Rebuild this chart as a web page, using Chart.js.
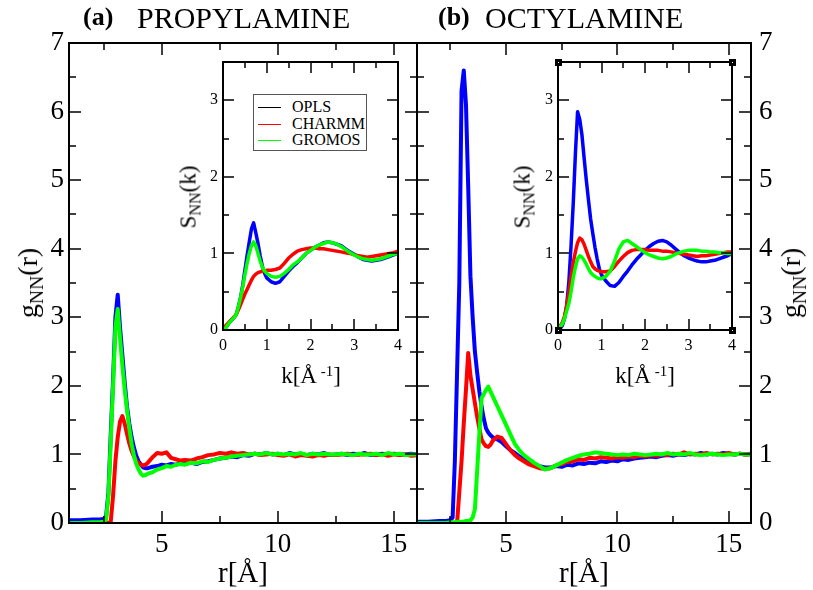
<!DOCTYPE html>
<html>
<head>
<meta charset="utf-8">
<script src="https://cdn.jsdelivr.net/npm/chart.js@4.4.1/dist/chart.umd.min.js"></script>
<style>
  body { margin: 0; background: #fff; }
  #page { position: relative; width: 813px; height: 590px; overflow: hidden; font-family: "Liberation Serif", "DejaVu Serif", serif; color: #000; }
  canvas { position: absolute; }
  .txt { position: absolute; white-space: nowrap; line-height: 1; }
  .rot { transform: translate(-50%, -50%) rotate(-90deg); }
  .ctr { transform: translate(-50%, -50%); }
  .sub { font-size: 0.7em; position: relative; top: 0.3em; }
  .sup { font-size: 0.65em; position: relative; top: -0.45em; }
  #legend { position: absolute; left: 253px; top: 94px; width: 114px; height: 57px; box-sizing: border-box; border: 1px solid #555; background: #fff; }
  .row { position: absolute; left: 4px; height: 16px; display: flex; align-items: center; font-size: 16px; }
  .row b { display: inline-block; width: 23px; height: 0; border-top: 1px solid; margin-right: 11px; }
</style>
</head>
<body>
<div id="page">
  <canvas id="mainA" width="425" height="590" style="left:0;top:0"></canvas>
  <canvas id="mainB" width="404" height="590" style="left:409px;top:0"></canvas>
  <canvas id="insetA" width="260" height="360" style="left:150px;top:40px"></canvas>
  <canvas id="insetB" width="260" height="360" style="left:485px;top:40px"></canvas>

  <div class="txt" style="left:83px;top:4px;font-size:26px;font-weight:bold">(a)</div>
  <div class="txt" style="left:137px;top:3px;font-size:30px">PROPYLAMINE</div>
  <div class="txt" style="left:438px;top:4px;font-size:26px;font-weight:bold">(b)</div>
  <div class="txt" style="left:485px;top:3px;font-size:30px">OCTYLAMINE</div>

  <div class="txt rot" style="left:28px;top:283px;font-size:28px">g<span class="sub">NN</span>(r)</div>
  <div class="txt rot" style="left:791px;top:283px;font-size:28px">g<span class="sub">NN</span>(r)</div>
  <div class="txt ctr" style="left:243px;top:572px;font-size:29px">r[Å]</div>
  <div class="txt ctr" style="left:584px;top:572px;font-size:29px">r[Å]</div>

  <div class="txt rot" style="left:188px;top:197px;font-size:23px">S<span class="sub">NN</span>(k)</div>
  <div class="txt rot" style="left:522px;top:197px;font-size:23px">S<span class="sub">NN</span>(k)</div>
  <div class="txt ctr" style="left:311px;top:375px;font-size:23px">k[Å<span class="sup">&nbsp;-1</span>]</div>
  <div class="txt ctr" style="left:645px;top:375px;font-size:23px">k[Å<span class="sup">&nbsp;-1</span>]</div>

  <div id="legend">
    <div class="row" style="top:4px"><b style="color:#000"></b>OPLS</div>
    <div class="row" style="top:21px"><b style="color:#f00"></b>CHARMM</div>
    <div class="row" style="top:37px"><b style="color:#0f0"></b>GROMOS</div>
  </div>
</div>

<script>
// g_NN(r) data: r grid (Angstrom) shared by both main panels
const R_GRID = [1, 1.5, 2, 2.3, 2.5,
  2.6, 2.7, 2.8, 2.9, 3.0, 3.1, 3.2, 3.3, 3.4, 3.5, 3.6, 3.7, 3.8, 3.9, 4.0, 4.1, 4.2, 4.3, 4.4,
  4.6, 4.8, 5.0, 5.2, 5.4, 5.6, 5.8, 6.0,
  6.25, 6.5, 6.75, 7.0, 7.25, 7.5, 7.75, 8.0, 8.25, 8.5, 8.75, 9.0, 9.25, 9.5, 9.75, 10.0,
  10.25, 10.5, 10.75, 11.0, 11.25, 11.5, 11.75, 12.0, 12.25, 12.5, 12.75, 13.0, 13.25, 13.5, 13.75, 14.0,
  14.25, 14.5, 14.75, 15.0, 15.25, 15.5, 15.75, 16.0];

const PROP_G_OPLS = [0.04, 0.04, 0.05, 0.05, 0.06,
  0.1, 0.45, 1.3, 2.1, 3.0, 3.33, 2.85, 2.45, 2.05, 1.7, 1.45, 1.25, 1.1, 0.98, 0.9, 0.85, 0.81, 0.8, 0.8,
  0.82, 0.83, 0.85, 0.84, 0.86, 0.85, 0.87, 0.86,
  0.88, 0.86, 0.89, 0.9, 0.92, 0.94, 0.95, 0.97, 0.96, 0.99, 0.98, 1.01, 1.0, 1.02, 1.0, 1.01,
  0.99, 1.02, 1.0, 1.01, 0.99, 1.01, 1.0, 1.02, 0.99, 1.0, 1.01, 0.99, 1.01, 1.0, 1.02, 0.99,
  1.0, 1.01, 0.99, 1.01, 1.0, 1.0, 1.01, 1.0];
const PROP_G_CHARMM = [0, 0, 0, 0, 0,
  0, 0, 0.02, 0.4, 0.9, 1.25, 1.48, 1.56, 1.45, 1.3, 1.16, 1.05, 0.97, 0.91, 0.87, 0.85, 0.84, 0.85, 0.88,
  0.96, 1.02, 1.01, 1.03, 0.95, 0.93, 0.91, 0.92,
  0.91, 0.94, 0.96, 0.99, 1.0, 1.02, 1.01, 1.03, 1.01, 1.02, 1.0, 1.01, 0.99, 1.0, 1.01, 0.99,
  0.98, 1.0, 0.97, 0.99, 0.98, 0.97, 0.99, 0.98, 1.0, 0.99, 1.0, 1.01, 0.99, 1.0, 1.0, 1.01,
  0.99, 1.0, 0.98, 1.0, 0.99, 1.0, 0.98, 0.99];
const PROP_G_GROMOS = [0, 0, 0.01, 0.01, 0.02,
  0.05, 0.4, 1.2, 2.0, 2.85, 3.12, 2.7, 2.3, 1.95, 1.65, 1.38, 1.15, 0.98, 0.86, 0.78, 0.72, 0.69, 0.7, 0.72,
  0.74, 0.78, 0.8, 0.83, 0.82, 0.85, 0.86, 0.85,
  0.88, 0.87, 0.9, 0.89, 0.92, 0.94, 0.95, 0.97, 0.98, 0.99, 1.0, 1.01, 1.0, 1.02, 1.0, 1.01,
  1.0, 1.01, 1.0, 1.02, 0.99, 1.01, 1.0, 1.01, 1.0, 1.0, 1.01, 1.0, 0.99, 1.01, 1.0, 1.0,
  1.01, 0.99, 1.02, 1.0, 1.01, 0.99, 1.0, 1.0];

const OCT_G_OPLS = [0.02, 0.02, 0.03, 0.03, 0.04,
  0.08, 0.9, 2.2, 3.5, 6.3, 6.6, 6.1, 4.9, 3.6, 3.0, 2.5, 2.2, 1.92, 1.7, 1.52, 1.38, 1.32, 1.28, 1.25,
  1.22, 1.18, 1.12, 1.06, 1.02, 0.97, 0.93, 0.9,
  0.86, 0.83, 0.81, 0.81, 0.83, 0.82, 0.85, 0.84, 0.87, 0.86, 0.88, 0.87, 0.9, 0.89, 0.91, 0.9,
  0.93, 0.92, 0.94, 0.95, 0.96, 0.97, 0.96, 0.98, 0.99, 0.98, 1.0, 0.99, 1.01, 1.0, 1.02, 1.0,
  1.01, 1.0, 1.02, 1.01, 1.0, 1.01, 1.0, 1.01];
const OCT_G_CHARMM = [-0.02, -0.02, -0.02, -0.02, -0.02,
  -0.02, -0.02, 0.0, 0.45, 0.9, 1.45, 1.95, 2.48, 2.15, 1.95, 1.75, 1.55, 1.38, 1.22, 1.16, 1.12, 1.11, 1.14, 1.2,
  1.26, 1.24, 1.15, 1.06, 0.99, 0.94, 0.9, 0.86,
  0.83, 0.8, 0.79, 0.8, 0.84, 0.86, 0.89, 0.9, 0.93, 0.92, 0.95, 0.94, 0.96, 0.95, 0.94, 0.96,
  0.95, 0.97, 0.96, 0.98, 0.97, 0.99, 0.98, 1.0, 0.99, 1.01, 1.0, 1.03, 1.0, 1.01, 1.0, 1.02,
  1.0, 1.01, 1.0, 1.02, 1.0, 1.01, 1.0, 1.0];
const OCT_G_GROMOS = [0, 0, 0, 0, 0.01,
  0.01, 0.01, 0.02, 0.02, 0.02, 0.02, 0.03, 0.03, 0.04, 0.08, 0.2, 0.75, 1.3, 1.82, 1.88, 1.94, 1.99, 1.92, 1.85,
  1.71, 1.57, 1.43, 1.29, 1.15, 1.06, 0.99, 0.94,
  0.88, 0.83, 0.78, 0.8, 0.84, 0.88, 0.92, 0.95, 0.98, 1.0, 1.01, 1.03, 1.02, 1.01, 1.0, 0.99,
  1.0, 0.99, 1.01, 1.0, 0.99, 1.0, 1.01, 1.0, 1.02, 1.0, 1.01, 1.0, 1.02, 1.0, 0.99, 1.0,
  1.01, 1.0, 0.99, 1.0, 1.0, 1.01, 1.0, 1.0];

// S_NN(k) data: k grid (1/Angstrom) shared by both insets
const K_GRID = [0, 0.05, 0.1, 0.15, 0.2, 0.25, 0.3, 0.35, 0.4, 0.45, 0.5, 0.55, 0.6, 0.65, 0.7, 0.75, 0.8, 0.85, 0.9, 0.95, 1.0,
  1.1, 1.2, 1.3, 1.4, 1.5, 1.6, 1.7, 1.8, 1.9, 2.0, 2.1, 2.2, 2.3, 2.4, 2.5, 2.6, 2.7, 2.8, 2.9, 3.0,
  3.1, 3.2, 3.3, 3.4, 3.5, 3.6, 3.7, 3.8, 3.9, 4.0];

const PROP_S_OPLS = [0, 0.02, 0.06, 0.1, 0.13, 0.16, 0.2, 0.3, 0.42, 0.58, 0.78, 0.97, 1.15, 1.32, 1.4, 1.27, 1.13, 0.97, 0.83, 0.74, 0.68,
  0.63, 0.61, 0.63, 0.7, 0.77, 0.83, 0.88, 0.94, 1.0, 1.04, 1.08, 1.11, 1.14, 1.15, 1.14, 1.12, 1.1, 1.06, 1.02, 0.99,
  0.95, 0.92, 0.91, 0.9, 0.91, 0.92, 0.94, 0.96, 0.98, 1.0];
const PROP_S_CHARMM = [0.03, 0.05, 0.08, 0.11, 0.14, 0.17, 0.2, 0.26, 0.33, 0.4, 0.47, 0.53, 0.59, 0.65, 0.7, 0.73, 0.75, 0.76, 0.77, 0.77, 0.78,
  0.78, 0.79, 0.81, 0.87, 0.94, 0.99, 1.03, 1.05, 1.06, 1.07, 1.07, 1.06, 1.06, 1.05, 1.04, 1.03, 1.02, 1.01, 1.0, 0.98,
  0.97, 0.96, 0.95, 0.96, 0.97, 0.98, 0.99, 1.0, 1.01, 1.03];
const PROP_S_GROMOS = [0, 0.02, 0.06, 0.1, 0.13, 0.16, 0.2, 0.3, 0.42, 0.56, 0.72, 0.87, 1.0, 1.1, 1.15, 1.1, 1.0, 0.9, 0.82, 0.77, 0.74,
  0.7, 0.69, 0.7, 0.74, 0.79, 0.85, 0.89, 0.94, 1.0, 1.04, 1.08, 1.11, 1.13, 1.15, 1.14, 1.12, 1.09, 1.05, 1.01, 0.98,
  0.95, 0.93, 0.92, 0.91, 0.92, 0.93, 0.95, 0.97, 0.99, 1.0];

const OCT_S_OPLS = [0, 0.02, 0.06, 0.15, 0.32, 0.63, 1.1, 1.65, 2.3, 2.85, 2.75, 2.55, 2.25, 1.96, 1.7, 1.45, 1.26, 1.08, 0.93, 0.8, 0.72,
  0.64, 0.58, 0.57, 0.62, 0.7, 0.77, 0.85, 0.92, 0.98, 1.04, 1.09, 1.13, 1.16, 1.17, 1.15, 1.11, 1.06, 1.01, 0.97, 0.94,
  0.92, 0.9, 0.89, 0.89, 0.9, 0.91, 0.93, 0.95, 0.97, 1.0];
const OCT_S_CHARMM = [0.03, 0.05, 0.1, 0.18, 0.32, 0.5, 0.7, 0.88, 1.02, 1.14, 1.2, 1.18, 1.12, 1.04, 0.96, 0.89, 0.83, 0.8, 0.78, 0.77, 0.76,
  0.76, 0.77, 0.83, 0.9, 0.96, 1.01, 1.04, 1.05, 1.05, 1.05, 1.04, 1.04, 1.04, 1.03, 1.03, 1.02, 1.01, 1.0, 0.99, 0.98,
  0.97, 0.96, 0.97, 0.97, 0.98, 0.99, 1.0, 1.01, 1.02, 1.02];
const OCT_S_GROMOS = [0.02, 0.04, 0.08, 0.15, 0.25, 0.35, 0.5, 0.68, 0.82, 0.93, 0.97, 0.95, 0.91, 0.86, 0.8, 0.75, 0.72, 0.7, 0.68, 0.67, 0.67,
  0.7, 0.77, 0.9, 1.06, 1.15, 1.17, 1.13, 1.09, 1.05, 1.01, 0.98, 0.96, 0.94, 0.93, 0.94, 0.96, 0.99, 1.01, 1.03, 1.04,
  1.04, 1.04, 1.03, 1.03, 1.02, 1.02, 1.01, 1.01, 1.0, 1.0];

// tick values
const R_TICKS = [5, 10, 15];
const R_MINOR = [2.5, 7.5, 12.5];
const G_TICKS = [0, 1, 2, 3, 4, 5, 6, 7];
const G_MINOR = [0.5, 1.5, 2.5, 3.5, 4.5, 5.5, 6.5];
const K_TICKS = [0, 1, 2, 3, 4];
const K_MINOR = [0.5, 1.5, 2.5, 3.5];
const S_TICKS = [0, 1, 2, 3];
const S_MINOR = [0.5, 1.5, 2.5];

const BLUE = '#0000ff', RED = '#ff0000', GREEN = '#00ff00';
const SERIF = '"Liberation Serif", "DejaVu Serif", serif';

// inward ticks on all four sides + frame (xmgrace style)
const frameTicks = {
  id: 'frameTicks',
  afterDatasetsDraw(chart, args, o) {
    const { ctx, chartArea: a } = chart;
    const x = chart.scales.x, y = chart.scales.y;
    ctx.save();
    ctx.strokeStyle = '#000';
    ctx.lineWidth = 1.5;
    ctx.beginPath();
    const xt = (vals, len) => vals.forEach(v => {
      const px = Math.round(x.getPixelForValue(v));
      ctx.moveTo(px, a.bottom); ctx.lineTo(px, a.bottom - len);
      ctx.moveTo(px, a.top); ctx.lineTo(px, a.top + len);
    });
    const yt = (vals, len) => vals.forEach(v => {
      const py = Math.round(y.getPixelForValue(v));
      ctx.moveTo(a.left, py); ctx.lineTo(a.left + len, py);
      ctx.moveTo(a.right, py); ctx.lineTo(a.right - len, py);
    });
    xt(o.xMajor, o.major); xt(o.xMinor, o.minor);
    yt(o.yMajor, o.major); yt(o.yMinor, o.minor);
    ctx.stroke();
    ctx.lineWidth = 2;
    ctx.strokeRect(a.left, a.top, a.right - a.left, a.bottom - a.top);
    if (o.corners) {
      [[a.left, a.top], [a.right, a.top], [a.left, a.bottom], [a.right, a.bottom]].forEach(([cx, cy]) => {
        ctx.fillStyle = '#000';
        ctx.fillRect(cx - 3, cy - 3, 7, 7);
        ctx.fillStyle = '#fff';
        ctx.fillRect(cx, cy, 1, 1);
      });
    }
    ctx.restore();
  }
};

function makeChart(id, xs, series, o) {
  return new Chart(document.getElementById(id), {
    type: 'line',
    data: {
      datasets: series.map((s, i) => ({
        data: xs.map((v, j) => ({ x: v, y: s.values[j] })),
        borderColor: s.color,
        borderWidth: o.lineWidth,
        pointRadius: 0,
        tension: 0,
        borderJoinStyle: 'round',
        order: series.length - i
      }))
    },
    options: {
      responsive: false,
      animation: false,
      events: [],
      layout: { padding: o.padding },
      plugins: {
        legend: { display: false },
        tooltip: { enabled: false },
        frameTicks: { xMajor: o.xTicks, xMinor: o.xMinor, yMajor: o.yTicks, yMinor: o.yMinor, major: o.major, minor: o.minor, corners: o.corners }
      },
      scales: {
        x: {
          type: 'linear', min: o.xMin, max: o.xMax,
          afterBuildTicks: s => { s.ticks = o.xTicks.map(v => ({ value: v })); },
          afterFit: s => { s.height = o.xh; },
          grid: { display: false, drawTicks: false },
          border: { display: false },
          ticks: { color: '#000', font: { family: SERIF, size: o.font }, padding: o.xPad, maxRotation: 0, autoSkip: false }
        },
        y: {
          type: 'linear', position: o.yPos, min: o.yMin, max: o.yMax,
          afterBuildTicks: s => { s.ticks = o.yTicks.map(v => ({ value: v })); },
          afterFit: s => { s.width = o.yw; },
          grid: { display: false, drawTicks: false },
          border: { display: false },
          ticks: { color: '#000', font: { family: SERIF, size: o.font }, padding: o.yPad, autoSkip: false }
        }
      }
    },
    plugins: [frameTicks]
  });
}

const mainOpts = {
  xMin: 1, xMax: 16, yMin: 0, yMax: 7,
  xTicks: R_TICKS, xMinor: R_MINOR, yTicks: G_TICKS, yMinor: G_MINOR,
  major: 12, minor: 7, lineWidth: 4, font: 27, xh: 67, xPad: 6
};
const insetOpts = {
  xMin: 0, xMax: 4, yMin: 0, yMax: 3.5,
  xTicks: K_TICKS, xMinor: K_MINOR, yTicks: S_TICKS, yMinor: S_MINOR,
  major: 11, minor: 6, lineWidth: 3.5, font: 16, xh: 70, xPad: 6
};

makeChart('mainA', R_GRID, [
  { color: BLUE, values: PROP_G_OPLS },
  { color: RED, values: PROP_G_CHARMM },
  { color: GREEN, values: PROP_G_GROMOS }
], { ...mainOpts, yPos: 'left', yw: 69, yPad: 5, padding: { top: 43, right: 8, left: 0, bottom: 0 } });

makeChart('mainB', R_GRID, [
  { color: BLUE, values: OCT_G_OPLS },
  { color: RED, values: OCT_G_CHARMM },
  { color: GREEN, values: OCT_G_GROMOS }
], { ...mainOpts, yPos: 'right', yw: 62, yPad: 8, padding: { top: 43, right: 0, left: 8, bottom: 0 } });

makeChart('insetA', K_GRID, [
  { color: BLUE, values: PROP_S_OPLS },
  { color: RED, values: PROP_S_CHARMM },
  { color: GREEN, values: PROP_S_GROMOS }
], { ...insetOpts, yPos: 'left', yw: 73, yPad: 5, padding: { top: 22, right: 12, left: 0, bottom: 0 } });

makeChart('insetB', K_GRID, [
  { color: BLUE, values: OCT_S_OPLS },
  { color: RED, values: OCT_S_CHARMM },
  { color: GREEN, values: OCT_S_GROMOS }
], { ...insetOpts, yPos: 'left', yw: 73, yPad: 5, corners: true, padding: { top: 22, right: 13, left: 0, bottom: 0 } });
</script>
</body>
</html>
